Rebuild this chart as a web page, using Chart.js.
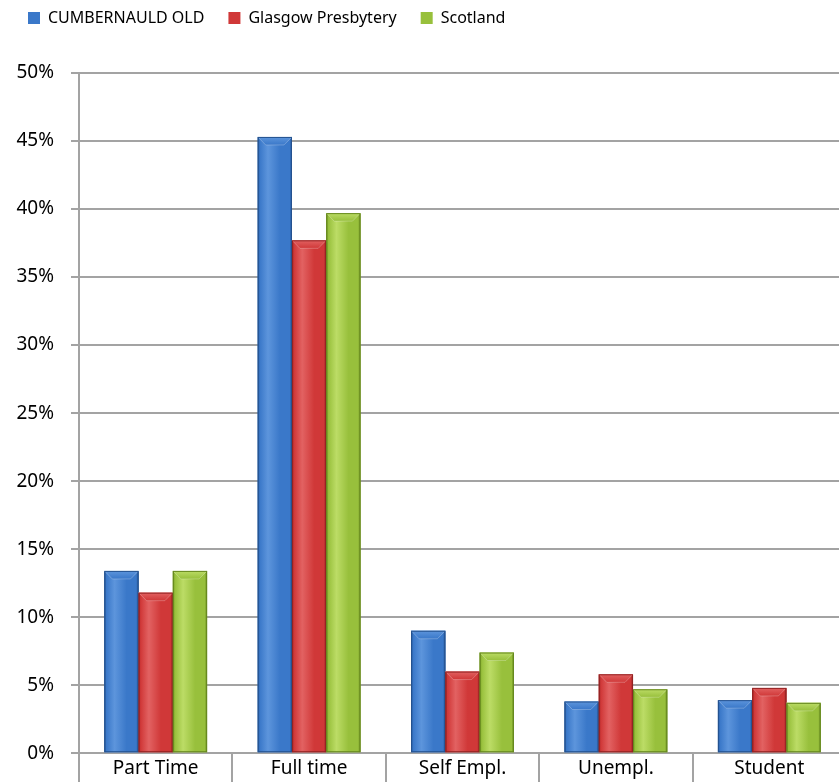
<!DOCTYPE html>
<html>
<head>
<meta charset="utf-8">
<script src="https://cdn.jsdelivr.net/npm/chart.js@4"></script>
<style>
    html, body { margin: 0; padding: 0; background: #fff; overflow: hidden; }
    #wrap { width: 850px; height: 782px; }
</style>
</head>
<body>
<div id="wrap"><canvas id="chart" width="850" height="782"></canvas></div>
<script>
// Dados do gráfico
const categories = ['Part Time', 'Full time', 'Self Empl.', 'Unempl.', 'Student'];
const cumbernauld = [13.4, 45.3, 9.0, 3.8, 3.9];
const glasgow = [11.8, 37.7, 6.0, 5.8, 4.8];
const scotland = [13.4, 39.7, 7.4, 4.7, 3.7];
const seriesNames = ['CUMBERNAULD OLD', 'Glasgow Presbytery', 'Scotland'];

// Cores: base, claro, escuro
const palette = [
    { base: '#3a78c9', light: '#5d95dc', dark: '#24528f' },
    { base: '#d03838', light: '#e26262', dark: '#932222' },
    { base: '#98c03c', light: '#bcdc66', dark: '#66881e' }
];

const gridColor = '#a3a3a3';
const font = 'Noto Sans';

// Plugin para o efeito de bisel nas barras
const bevelPlugin = {
    id: 'bevel',
    afterDatasetsDraw(chart) {
        const ctx = chart.ctx;
        chart.data.datasets.forEach((ds, i) => {
            const meta = chart.getDatasetMeta(i);
            const col = palette[i];
            meta.data.forEach(bar => {
                const p = bar.getProps(['x', 'y', 'base', 'width'], true);
                const left = p.x - p.width / 2;
                const right = p.x + p.width / 2;
                const top = p.y;
                const bottom = p.base;
                const b = Math.min(8, (bottom - top) / 2);
                ctx.save();
                // corpo com gradiente horizontal suave
                const g = ctx.createLinearGradient(left, 0, right, 0);
                g.addColorStop(0, col.dark);
                g.addColorStop(0.06, col.base);
                g.addColorStop(0.3, col.light);
                g.addColorStop(0.65, col.base);
                g.addColorStop(0.93, col.base);
                g.addColorStop(1, col.dark);
                ctx.fillStyle = g;
                ctx.fillRect(left, top, right - left, bottom - top);
                // bisel superior
                const gt = ctx.createLinearGradient(0, top, 0, top + b);
                gt.addColorStop(0, col.light);
                gt.addColorStop(1, col.base);
                ctx.beginPath();
                ctx.moveTo(left, top);
                ctx.lineTo(right, top);
                ctx.lineTo(right - b, top + b);
                ctx.lineTo(left + b, top + b);
                ctx.closePath();
                ctx.fillStyle = gt;
                ctx.fill();
                ctx.strokeStyle = 'rgba(255,255,255,0.25)';
                ctx.lineWidth = 1;
                ctx.stroke();
                // contorno
                ctx.strokeStyle = col.dark;
                ctx.lineWidth = 1;
                ctx.strokeRect(left + 0.5, top + 0.5, right - left - 1, bottom - top - 1);
                ctx.restore();
            });
        });
    }
};

// Plugin para as linhas divisórias abaixo do eixo x
const dividerPlugin = {
    id: 'dividers',
    afterDraw(chart) {
        const ctx = chart.ctx;
        const scale = chart.scales.x;
        ctx.save();
        ctx.strokeStyle = gridColor;
        ctx.lineWidth = 2;
        for (let i = 0; i <= categories.length; i++) {
            const x = Math.round(scale.getPixelForValue(i - 0.5));
            ctx.beginPath();
            ctx.moveTo(x, scale.top);
            ctx.lineTo(x, chart.height);
            ctx.stroke();
        }
        ctx.restore();
    }
};

const ctx = document.getElementById('chart').getContext('2d');
const chart = new Chart(ctx, {
    type: 'bar',
    data: {
        labels: categories,
        datasets: [cumbernauld, glasgow, scotland].map((values, i) => ({
            label: seriesNames[i],
            data: values,
            backgroundColor: palette[i].base,
            borderColor: palette[i].dark,
            borderWidth: 0,
            categoryPercentage: 0.67,
            barPercentage: 1.0
        }))
    },
    options: {
        responsive: false,
        animation: false,
        layout: { padding: { top: -14, right: 4, left: 4, bottom: -2 } },
        plugins: {
            legend: {
                position: 'top',
                align: 'start',
                labels: {
                    boxWidth: 12,
                    boxHeight: 12,
                    padding: 24,
                    color: '#000',
                    font: { family: font, size: 16 }
                }
            },
            // espaçador entre legenda e gráfico
            subtitle: {
                display: true,
                text: '',
                position: 'top',
                weight: 500,
                font: { size: 10 },
                padding: { top: 0, bottom: 25 }
            },
            tooltip: { enabled: false }
        },
        scales: {
            x: {
                grid: {
                    display: false,
                    drawTicks: false
                },
                border: { display: true, color: gridColor, width: 2 },
                ticks: {
                    padding: 4,
                    color: '#000',
                    font: { family: font, size: 19 }
                }
            },
            y: {
                min: 0,
                max: 50,
                afterFit(scale) { scale.width = 75; },
                grid: {
                    color: gridColor,
                    lineWidth: 2,
                    tickLength: 8
                },
                border: { display: true, color: gridColor, width: 2 },
                ticks: {
                    stepSize: 5,
                    padding: 17,
                    color: '#000',
                    font: { family: font, size: 19 },
                    callback: value => value + '%'
                }
            }
        }
    },
    plugins: [bevelPlugin, dividerPlugin]
});
</script>
</body>
</html>
